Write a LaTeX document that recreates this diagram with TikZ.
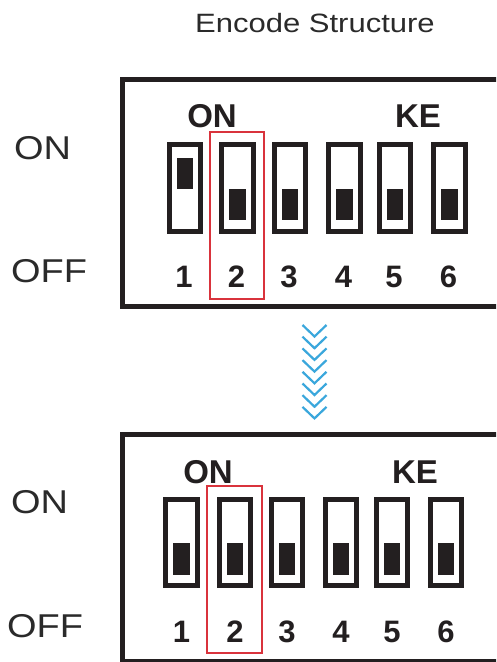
\documentclass[tikz,border=0pt]{standalone}
\usepackage{fontspec}
\setmainfont{Liberation Sans}
\usepackage{graphicx}
\definecolor{ink}{HTML}{231F20}
\definecolor{txt}{HTML}{2A2A2A}
\definecolor{redb}{HTML}{D9333C}
\definecolor{chevb}{HTML}{3AA7DC}
\begin{document}
\begin{tikzpicture}[x=1pt,y=-1pt,
  frame/.style={draw=ink,line width=5pt},
  sw/.style={draw=ink,line width=5pt,minimum width=31.6pt,minimum height=87pt,inner sep=0pt,outer sep=0pt},
  knobon/.style={fill=ink,minimum width=16.5pt,minimum height=31pt,inner sep=0pt,outer sep=0pt},
  redbox/.style={draw=redb,line width=1.8pt},
  chev/.style={draw=chevb,line width=2.2pt},
  bold/.style={font=\fontsize{33}{36}\selectfont\bfseries,text=ink,inner sep=0pt,anchor=base},
  num/.style={font=\fontsize{31}{34}\selectfont\bfseries,text=ink,inner sep=0pt,anchor=base},
  side/.style={font=\fontsize{33}{36}\selectfont,text=txt,inner sep=0pt,anchor=base west},
  ttl/.style={font=\fontsize{26.5}{30}\selectfont,text=txt,inner sep=0pt,anchor=base}]
\useasboundingbox (0,0) rectangle (496,662);
\clip (0,0) rectangle (496,662);
\fill[white] (0,0) rectangle (496,662);
% title
\node[ttl] (title) at (315,32.7) {\scalebox{1.17}[1]{Encode Structure}};
% side labels
\node[side] (onA) at (14,159) {\scalebox{1.15}[1]{ON}};
\node[side] (offA) at (11,282) {\scalebox{1.15}[1]{OFF}};
\node[side] (onB) at (11,513) {\scalebox{1.15}[1]{ON}};
\node[side] (offB) at (7,637) {\scalebox{1.15}[1]{OFF}};
% frames
\draw[frame] (505,79.5) -- (122.5,79.5) -- (122.5,306) -- (505,306);
\draw[frame] (505,434) -- (122,434) -- (122,661) -- (505,661);
% top panel
\node[bold] (tON) at (212,127) {ON};
\node[bold] (tKE) at (418,127) {KE};
\foreach \i/\x/\ky in {1/185/173, 2/237.5/204, 3/290/204, 4/344.5/204, 5/395/204, 6/449.5/204}{
  \node[sw] (ts\i) at (\x,187.8) {};
  \node[knobon] (tk\i) at (\x,\ky) {};
  \node[num] (tn\i) at (\x-1,287) {\i};
}
\draw[redbox] (210,132) rectangle (264,299);
% chevrons
\foreach \k in {0,...,7}{
  \draw[chev] (302.5,325+11.7*\k) -- (314.5,336.5+11.7*\k) -- (326.5,325+11.7*\k);
}
% bottom panel
\node[bold] (bON) at (208,483) {ON};
\node[bold] (bKE) at (415,483) {KE};
\foreach \i/\x in {1/181.5, 2/235, 3/287, 4/341, 5/392, 6/446}{
  \node[sw,minimum height=86pt] (bs\i) at (\x,542.5) {};
  \node[knobon,minimum height=32pt] (bk\i) at (\x,559) {};
  \node[num] (bn\i) at (\x,642) {\i};
}
\draw[redbox] (207,486) rectangle (262,653);
\end{tikzpicture}
\end{document}
